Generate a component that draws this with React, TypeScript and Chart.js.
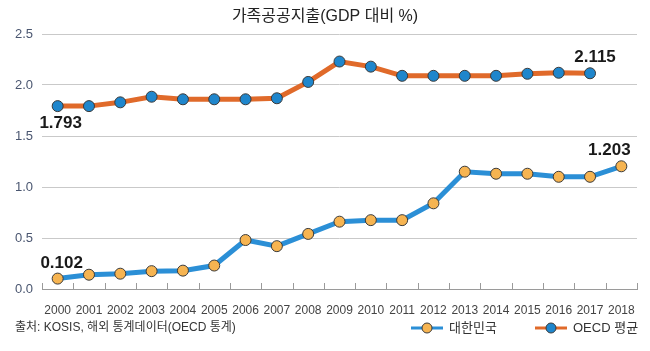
import React, { useEffect, useRef } from "react";
import { Chart, registerables } from "chart.js";

Chart.register(...registerables);

const years = ["2000","2001","2002","2003","2004","2005","2006","2007","2008","2009","2010","2011","2012","2013","2014","2015","2016","2017","2018"];
const korea = [0.102, 0.14, 0.15, 0.175, 0.18, 0.23, 0.48, 0.42, 0.54, 0.66, 0.675, 0.675, 0.84, 1.15, 1.13, 1.13, 1.1, 1.1, 1.203];
const oecd = [1.793, 1.793, 1.83, 1.885, 1.86, 1.86, 1.86, 1.87, 2.03, 2.23, 2.18, 2.09, 2.09, 2.09, 2.09, 2.11, 2.12, 2.115, null];
const yTicks = [0, 0.5, 1.0, 1.5, 2.0, 2.5];

const titleText = "가족공공지출(GDP 대비 %)";
const sourceText = "출처: KOSIS, 해외 통계데이터(OECD 통계)";
const koreaLabel = "대한민국";
const oecdLabel = "OECD 평균";

const LAT = "'Liberation Sans', 'Noto Sans CJK KR', sans-serif";

const KOREA_LINE = "#2b8fd6";
const KOREA_PT = "#f6b451";
const OECD_LINE = "#e06a2a";
const OECD_PT = "#1f86cc";
const PT_BORDER = "#3a3a3a";

const decor = {
  id: "decor",
  afterDraw(chart: any) {
    const ctx = chart.ctx;
    const x = chart.scales.x;
    const y = chart.scales.y;
    ctx.save();
    ctx.strokeStyle = "#9a9a9a";
    ctx.lineWidth = 1;
    const half = (x.getPixelForValue(1) - x.getPixelForValue(0)) / 2;
    const y0 = y.getPixelForValue(0);
    for (let i = 0; i <= years.length; i++) {
      const px = Math.round(x.getPixelForValue(i) - half) + 0.5;
      ctx.beginPath();
      ctx.moveTo(px, y0 - 6);
      ctx.lineTo(px, y0);
      ctx.stroke();
    }
    ctx.fillStyle = "#222";
    ctx.font = `16px ${LAT}`;
    ctx.textAlign = "center";
    ctx.textBaseline = "middle";
    ctx.fillText(titleText, chart.width / 2, 17);
    ctx.font = `12px ${LAT}`;
    ctx.fillStyle = "#333";
    ctx.textAlign = "left";
    ctx.fillText(sourceText, 15, 328);
    ctx.font = `bold 17px ${LAT}`;
    ctx.fillStyle = "#1a1a1a";
    ctx.textAlign = "center";
    const lab = (txt: string, idx: number, val: number, dx: number, dy: number) => {
      ctx.fillText(txt, x.getPixelForValue(idx) + dx, y.getPixelForValue(val) + dy);
    };
    lab((oecd[0] as number).toFixed(3), 0, oecd[0] as number, 3, 17);
    lab((oecd[17] as number).toFixed(3), 17, oecd[17] as number, 5, -16);
    lab(korea[0].toFixed(3), 0, korea[0], 4, -15);
    lab(korea[18].toFixed(3), 18, korea[18], -12, -16);
    const drawItem = (lx: number, line: string, pt: string, text: string) => {
      const ly = 328;
      ctx.strokeStyle = line;
      ctx.lineWidth = 3;
      ctx.beginPath();
      ctx.moveTo(lx, ly);
      ctx.lineTo(lx + 32, ly);
      ctx.stroke();
      ctx.beginPath();
      ctx.arc(lx + 16, ly, 5, 0, Math.PI * 2);
      ctx.fillStyle = pt;
      ctx.fill();
      ctx.lineWidth = 1;
      ctx.strokeStyle = PT_BORDER;
      ctx.stroke();
      ctx.fillStyle = "#333";
      ctx.font = `13px ${LAT}`;
      ctx.textAlign = "left";
      ctx.fillText(text, lx + 38, ly);
    };
    drawItem(411, KOREA_LINE, KOREA_PT, koreaLabel);
    drawItem(535, OECD_LINE, OECD_PT, oecdLabel);
    ctx.restore();
  },
};

export default function App() {
  const ref = useRef<HTMLCanvasElement>(null);
  useEffect(() => {
    if (!ref.current) return;
    const chart = new Chart(ref.current, {
      type: "line",
      data: {
        labels: years,
        datasets: [
          {
            label: koreaLabel,
            data: korea,
            borderColor: KOREA_LINE,
            borderWidth: 5,
            backgroundColor: KOREA_PT,
            pointBackgroundColor: KOREA_PT,
            pointBorderColor: PT_BORDER,
            pointBorderWidth: 1,
            pointRadius: 5.5,
            tension: 0,
          },
          {
            label: oecdLabel,
            data: oecd,
            borderColor: OECD_LINE,
            borderWidth: 5,
            backgroundColor: OECD_PT,
            pointBackgroundColor: OECD_PT,
            pointBorderColor: PT_BORDER,
            pointBorderWidth: 1,
            pointRadius: 5.5,
            tension: 0,
          },
        ],
      },
      options: {
        animation: false,
        responsive: false,
        layout: { padding: { top: 34, right: 13, left: 0, bottom: 0 } },
        plugins: { legend: { display: false }, tooltip: { enabled: false }, title: { display: false } },
        scales: {
          x: {
            offset: true,
            grid: { display: false },
            border: { display: true, color: "#9a9a9a", width: 1 },
            ticks: { color: "#444", font: { family: LAT, size: 12 }, padding: 6, maxRotation: 0, autoSkip: false },
            afterFit: (s: any) => { s.height = 62; },
          },
          y: {
            min: 0,
            max: 2.5,
            afterBuildTicks: (s: any) => { s.ticks = yTicks.map((v) => ({ value: v })); },
            grid: { color: "#c9c9c9", lineWidth: 1, drawTicks: false },
            border: { display: false },
            ticks: {
              color: "#4a5670",
              font: { family: LAT, size: 13 },
              padding: 9,
              callback: (v: any) => Number(v).toFixed(1),
            },
            afterFit: (s: any) => { s.width = 42; },
          },
        },
      },
      plugins: [decor],
    });
    return () => chart.destroy();
  }, []);
  return (
    <div style={{ position: "fixed", left: 0, top: 0, width: 650, height: 351, background: "#fff" }}>
      <canvas ref={ref} width={650} height={351} style={{ width: 650, height: 351 }} />
    </div>
  );
}
